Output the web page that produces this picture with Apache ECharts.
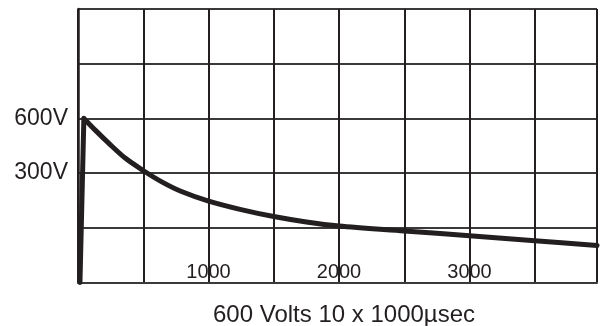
<!DOCTYPE html>
<html>
<head>
<meta charset="utf-8">
<script src="https://cdn.jsdelivr.net/npm/echarts@6/dist/echarts.min.js"></script>
<style>
  html, body { margin: 0; padding: 0; background: #ffffff; }
  #chart { width: 600px; height: 326px; }
</style>
</head>
<body>
<div id="chart"></div>
<script>
// Pulse waveform: time in microseconds, voltage in volts
// Front edge of the pulse
const riseTimeUs = [15, 45];
const riseVolts = [-300, 600];
// Decaying tail
const tailTimeUs = [45, 136, 237, 364, 502, 642, 793, 995, 1250, 1500, 1750, 2000, 2500, 3000, 3500, 3977];
const tailVolts = [600, 533, 463, 381, 313, 252, 199, 148, 100, 62, 32, 10, -17, -44, -71, -97];

// Labelled ticks
const timeTickLabels = [1000, 2000, 3000];
const voltTickLabels = [300, 600];

const caption = '600 Volts 10 x 1000\u00b5sec';

const ink = '#231f20';
const gridInk = '#3a3a3a';
const fontFamily = '"Liberation Sans", Arial, Helvetica, sans-serif';

const risePoints = riseTimeUs.map((t, i) => [t, riseVolts[i]]);
const tailPoints = tailTimeUs.map((t, i) => [t, tailVolts[i]]);

const traceStyle = { color: ink, width: 5, cap: 'round', join: 'round' };

const chart = echarts.init(document.getElementById('chart'), null, { renderer: 'canvas' });
chart.setOption({
  animation: false,
  backgroundColor: '#ffffff',
  title: {
    text: caption,
    left: 213,
    top: 303,
    padding: 0,
    textStyle: { fontFamily, fontSize: 24, fontWeight: 'normal', color: ink }
  },
  grid: { left: 78, right: -3, top: 9, bottom: 43.5, containLabel: false },
  xAxis: {
    type: 'value',
    min: 0,
    max: 3977,
    interval: 500,
    axisLine: { show: true, onZero: false, lineStyle: { color: gridInk, width: 2 } },
    axisTick: { show: false },
    axisLabel: {
      inside: true,
      margin: 0,
      fontFamily,
      fontSize: 20,
      color: ink,
      formatter: v => (timeTickLabels.includes(v) ? String(v) : '')
    },
    splitLine: { show: true, lineStyle: { color: ink, width: 2 } }
  },
  yAxis: {
    type: 'value',
    min: -300,
    max: 1200,
    interval: 300,
    axisLine: { show: true, onZero: false, lineStyle: { color: ink, width: 2.5 } },
    axisTick: { show: false },
    axisLabel: {
      margin: 10,
      fontFamily,
      fontSize: 23,
      color: ink,
      formatter: v => (voltTickLabels.includes(v) ? v + 'V' : '')
    },
    splitLine: { show: true, lineStyle: { color: gridInk, width: 2 } }
  },
  series: [
    {
      type: 'line',
      data: risePoints,
      showSymbol: false,
      smooth: false,
      lineStyle: traceStyle,
      z: 5
    },
    {
      type: 'line',
      data: tailPoints,
      showSymbol: false,
      smooth: 0.3,
      lineStyle: traceStyle,
      z: 5
    }
  ]
});
</script>
</body>
</html>
